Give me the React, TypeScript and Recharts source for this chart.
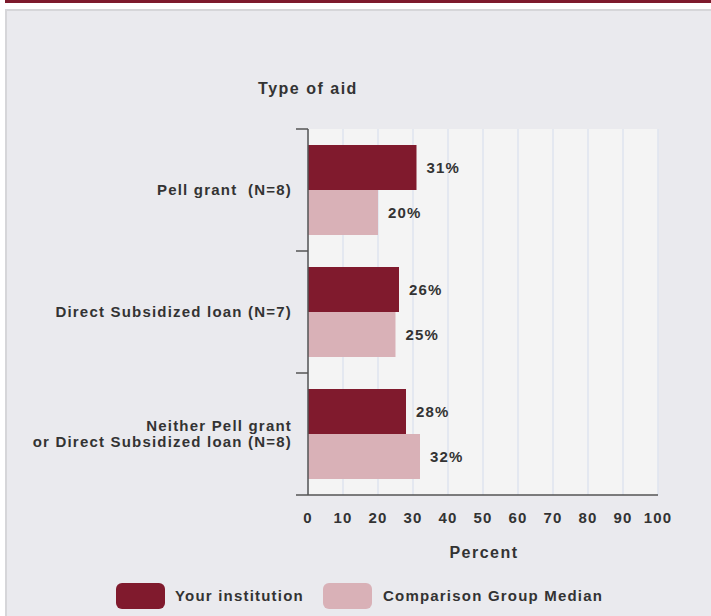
import React from "react";
import { BarChart, Bar, XAxis, YAxis, CartesianGrid, LabelList } from "recharts";

const categories = [
  "Pell grant  (N=8)",
  "Direct Subsidized loan (N=7)",
  "Neither Pell grant\nor Direct Subsidized loan (N=8)",
];
const yourInstitution = [31, 26, 28];
const comparisonMedian = [20, 25, 32];
const percentTicks = [0, 10, 20, 30, 40, 50, 60, 70, 80, 90, 100];

const data = categories.map((name, i) => ({
  name,
  institution: yourInstitution[i],
  comparison: comparisonMedian[i],
}));

const FONT = "'Liberation Sans', Arial, Helvetica, sans-serif";
const TEXT = "#333333";
const DARK = "#801a2d";
const LIGHT = "#d9b1b7";

const W = 711;
const H = 616;
const M = { top: 129, right: 53, bottom: 61, left: 0 };
const PLOT_H = H - M.top - M.bottom - 60;
const BAND = PLOT_H / categories.length;

const LABEL_FONT = { fontFamily: FONT, fontWeight: 700, fontSize: 15, letterSpacing: 1.2 };

function CategoryTick(props: any) {
  const { x, y, payload, index } = props;
  const lines = String(payload.value).split("\n");
  const lh = 16;
  const first = 5 - ((lines.length - 1) * lh) / 2;
  return (
    <g>
      <line x1={x + 4} x2={x + 16} y1={y - BAND / 2} y2={y - BAND / 2} stroke="#555" strokeWidth={1.5} />
      {index === categories.length - 1 && (
        <line x1={x + 4} x2={x + 16} y1={y + BAND / 2} y2={y + BAND / 2} stroke="#555" strokeWidth={1.5} />
      )}
      <text x={x} y={y} textAnchor="end" fill={TEXT} {...LABEL_FONT} style={{ whiteSpace: "pre" }}>
        {lines.map((l, i) => (
          <tspan key={i} x={x} dy={i === 0 ? first : lh}>
            {l}
          </tspan>
        ))}
      </text>
    </g>
  );
}

export default function App() {
  return (
    <div style={{ position: "absolute", left: 0, top: 0, width: W, height: H, background: "#ffffff", overflow: "hidden" }}>
      <div style={{ position: "absolute", left: 5, top: 0, width: W - 5, height: 3, background: "#7d1a2c" }} />
      <div
        style={{
          position: "absolute",
          left: 5,
          top: 9,
          width: W,
          height: H,
          background: "#eaeaee",
          borderTop: "2px solid #d6d6d9",
          borderLeft: "2px solid #d6d6d9",
        }}
      />
      <div style={{ position: "absolute", left: 0, top: 0 }}>
        <BarChart
          width={W}
          height={H}
          data={data}
          layout="vertical"
          margin={M}
          barSize={45}
          barGap={0}
          barCategoryGap={16}
        >
          <CartesianGrid horizontal={false} stroke="#dfe5ef" strokeWidth={1.5} fill="#f4f4f4" />
          <XAxis
            type="number"
            domain={[0, 100]}
            ticks={percentTicks}
            height={60}
            axisLine={{ stroke: "#555", strokeWidth: 1.5 }}
            tickLine={false}
            tickSize={6}
            tickMargin={11}
            interval={0}
            tick={{ fill: TEXT, ...LABEL_FONT }}
          />
          <YAxis
            type="category"
            dataKey="name"
            width={308}
            axisLine={{ stroke: "#555", strokeWidth: 1.5 }}
            tickLine={false}
            tickSize={12}
            tickMargin={4}
            interval={0}
            tick={<CategoryTick />}
          />
          <Bar dataKey="institution" fill={DARK} isAnimationActive={false}>
            <LabelList
              dataKey="institution"
              position="right"
              offset={10}
              formatter={(v: any) => `${v}%`}
              fill={TEXT}
              {...LABEL_FONT}
            />
          </Bar>
          <Bar dataKey="comparison" fill={LIGHT} isAnimationActive={false}>
            <LabelList
              dataKey="comparison"
              position="right"
              offset={10}
              formatter={(v: any) => `${v}%`}
              fill={TEXT}
              {...LABEL_FONT}
            />
          </Bar>
        </BarChart>
      </div>
      <svg style={{ position: "absolute", left: 0, top: 0 }} width={W} height={H}>
        <g fontFamily={FONT} fontWeight={700} fill={TEXT}>
          <text x={308} y={94} textAnchor="middle" fontSize={16} letterSpacing={1.5}>
            Type of aid
          </text>
          <text x={484} y={558} textAnchor="middle" fontSize={16} letterSpacing={1.5}>
            Percent
          </text>
          <rect x={116} y={583} width={49} height={26} rx={6} fill={DARK} />
          <text x={175} y={601} fontSize={15} letterSpacing={1.2}>
            Your institution
          </text>
          <rect x={323} y={583} width={49} height={26} rx={6} fill={LIGHT} />
          <text x={383} y={601} fontSize={15} letterSpacing={1.2}>
            Comparison Group Median
          </text>
        </g>
      </svg>
    </div>
  );
}
